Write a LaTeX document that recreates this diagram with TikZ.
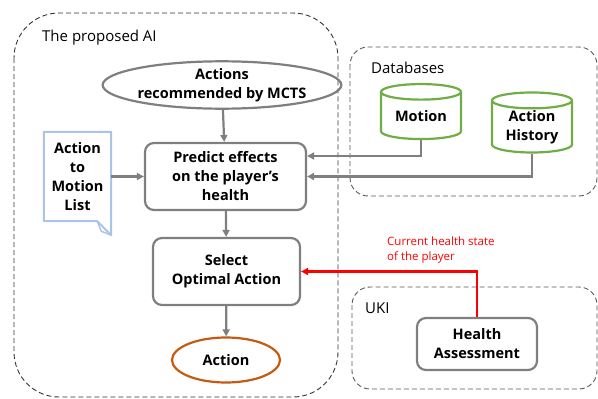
\documentclass[tikz,border=0pt]{standalone}
\usepackage{fontspec}
\setmainfont{Open Sans}
\usetikzlibrary{shapes.geometric,arrows.meta}
\definecolor{boxgray}{HTML}{7F7F7F}
\definecolor{dbgreen}{HTML}{70AD47}
\definecolor{actorange}{HTML}{C55A11}
\definecolor{docblue}{HTML}{A9C4E8}
\definecolor{dashgray}{HTML}{595959}
\begin{document}
\begin{tikzpicture}[x=1pt,y=-1pt,line cap=butt,line join=miter,>={Triangle[length=7pt,width=7pt]}]
\tikzset{group/.style={draw=dashgray,dashed,dash pattern=on 5pt off 3pt,line width=0.9pt},
boldtext/.style={font=\bfseries\fontsize{14.5}{19}\selectfont,align=center,inner sep=0pt},
stepbox/.style={boldtext,draw=boxgray,line width=2.2pt,rounded corners=9pt},
flow/.style={draw=boxgray,line width=2.2pt,->},
db/.style={boldtext,draw=dbgreen,line width=2.2pt,shape=cylinder,shape border rotate=90,aspect=0.3,fill=white},
grouplabel/.style={font=\fontsize{15}{18}\selectfont,anchor=west,inner sep=0pt}
}
\useasboundingbox (0,0) rectangle (598,399);
% groups
\draw[group,draw=black!80,rounded corners=45pt] (14,13) rectangle (338,397);
\node[grouplabel] (ailabel) at (42,38) {The proposed AI};
\draw[group,rounded corners=18pt] (350,47) rectangle (597,196);
\node[grouplabel] (dblabel) at (371,68) {Databases};
\draw[group,rounded corners=18pt] (352,287) rectangle (597,389);
\node[grouplabel] (ukilabel) at (365,308) {UKI};
% AI nodes
\node[boldtext,ellipse,draw=boxgray,line width=2.2pt,minimum width=200pt,minimum height=45pt] (mcts) at (222,85) {Actions\\recommended by MCTS};
\node[stepbox,minimum width=161pt,minimum height=67pt] (predict) at (225.5,176.5) {Predict effects\\on the player’s\\health};
\node[stepbox,minimum width=147pt,minimum height=67pt] (select) at (226.5,271.5) {Select\\Optimal Action};
\node[boldtext,ellipse,draw=actorange,line width=2.2pt,minimum width=108pt,minimum height=45pt] (action) at (226,360) {Action};
\node[boldtext,minimum width=67pt,minimum height=89pt] (doc) at (77.5,176.5) {Action\\to\\Motion\\List};
\draw[docblue,line width=2pt,line join=round] (doc.north west) -- (doc.north east) -- ([yshift=-14pt]doc.south east) -- ([xshift=-14pt]doc.south east) -- (doc.south west) -- cycle;
\draw[docblue,line width=1.5pt,line join=round] ([yshift=-14pt]doc.south east) -- ([xshift=-10pt,yshift=-10pt]doc.south east) -- ([xshift=-14pt]doc.south east);
% databases
\node[db,minimum width=80pt,minimum height=55pt] (motion) at (421,116) {Motion};
\node[db,minimum width=80pt,minimum height=60pt] (history) at (532,127) {Action\\History};
% UKI
\node[stepbox,minimum width=120pt,minimum height=52pt] (health) at (477,344) {Health\\Assessment};
% connectors
\draw[flow] (mcts) -- (predict);
\draw[flow] (doc) -- (predict);
\draw[flow] (predict) -- (select);
\draw[flow] (select) -- (action);
\draw[flow] (motion.bottom) |- ([yshift=20.5pt]predict.east);
\draw[flow] (history.bottom) |- (predict.east);
\draw[red,line width=2.6pt,->] (health.north) |- (select.east);
\node[font=\fontsize{11.5}{15}\selectfont,align=left,text=red,anchor=south west,inner sep=0pt] (statelabel) at (387,263) {Current health state\\of the player};
\end{tikzpicture}
\end{document}
